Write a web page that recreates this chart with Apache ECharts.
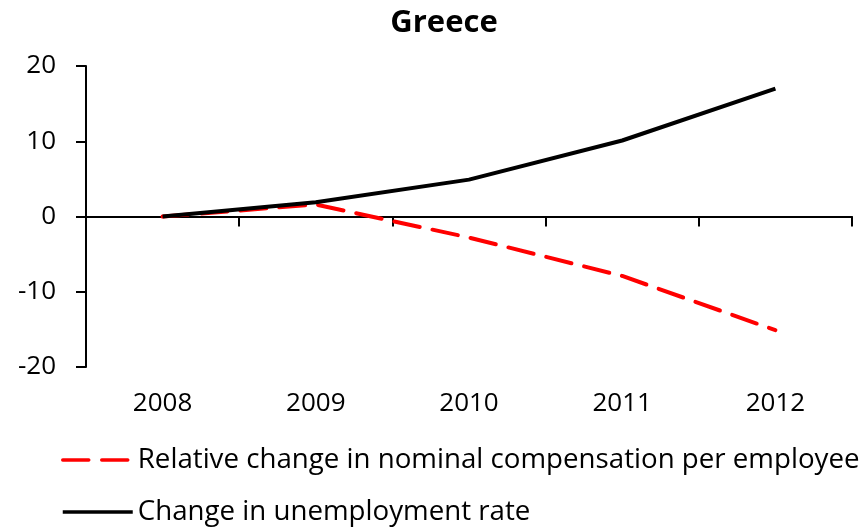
<!DOCTYPE html>
<html>
<head>
<meta charset="utf-8">
<script src="https://cdn.jsdelivr.net/npm/echarts@6/dist/echarts.min.js"></script>
<style>
  html, body { margin: 0; padding: 0; background: #fff; }
  #main { width: 868px; height: 531px; }
</style>
</head>
<body>
<div id="main"></div>
<script>
const years = ['2008', '2009', '2010', '2011', '2012'];
const compensation = [0, 1.6, -2.8, -7.9, -15.1];
const unemployment = [0, 1.9, 4.9, 10.1, 17.0];
const yTicks = [-20, 20, 10];

const font = 'Open Sans';
const chart = echarts.init(document.getElementById('main'));

chart.setOption({
  animation: false,
  title: {
    text: 'Greece',
    left: 439,
    textAlign: 'center',
    top: 3,
    textStyle: { fontFamily: font, fontSize: 31, fontWeight: 'bold', color: '#000' }
  },
  legend: {
    orient: 'vertical',
    left: 56,
    top: 441,
    itemGap: 24,
    itemWidth: 70,
    itemHeight: 14,
    itemStyle: { opacity: 0 },
    lineStyle: { width: 3.5 },
    textStyle: { fontFamily: font, fontSize: 27.7, color: '#000' },
    data: ['Relative change in nominal compensation per employee', 'Change in unemployment rate']
  },
  grid: { left: 86, right: 16, top: 66, bottom: 164 },
  xAxis: [
    {
      // labels along the bottom
      type: 'category',
      data: years,
      position: 'bottom',
      axisLine: { show: false, onZero: false },
      axisTick: { show: false },
      axisLabel: { margin: 24, fontFamily: font, fontSize: 26, color: '#000' }
    },
    {
      // axis line through zero
      type: 'category',
      data: years,
      position: 'bottom',
      axisLine: { show: true, onZero: true, lineStyle: { color: '#000', width: 2 } },
      axisTick: { show: true, length: 10, lineStyle: { color: '#000', width: 2 } },
      axisLabel: { show: false }
    }
  ],
  yAxis: {
    type: 'value',
    min: yTicks[0],
    max: yTicks[1],
    interval: yTicks[2],
    splitLine: { show: false },
    axisLine: { show: true, lineStyle: { color: '#000', width: 2 } },
    axisTick: { show: true, length: 10, lineStyle: { color: '#000', width: 2 } },
    axisLabel: { margin: 30, fontFamily: font, fontSize: 26, color: '#000' }
  },
  series: [
    {
      name: 'Relative change in nominal compensation per employee',
      type: 'line',
      data: compensation,
      showSymbol: false,
      symbol: 'none',
      color: '#ff0000',
      lineStyle: { color: '#ff0000', width: 4, type: [26, 13], cap: 'round' }
    },
    {
      name: 'Change in unemployment rate',
      type: 'line',
      data: unemployment,
      showSymbol: false,
      symbol: 'none',
      color: '#000',
      lineStyle: { color: '#000', width: 4 }
    }
  ]
});
</script>
</body>
</html>
